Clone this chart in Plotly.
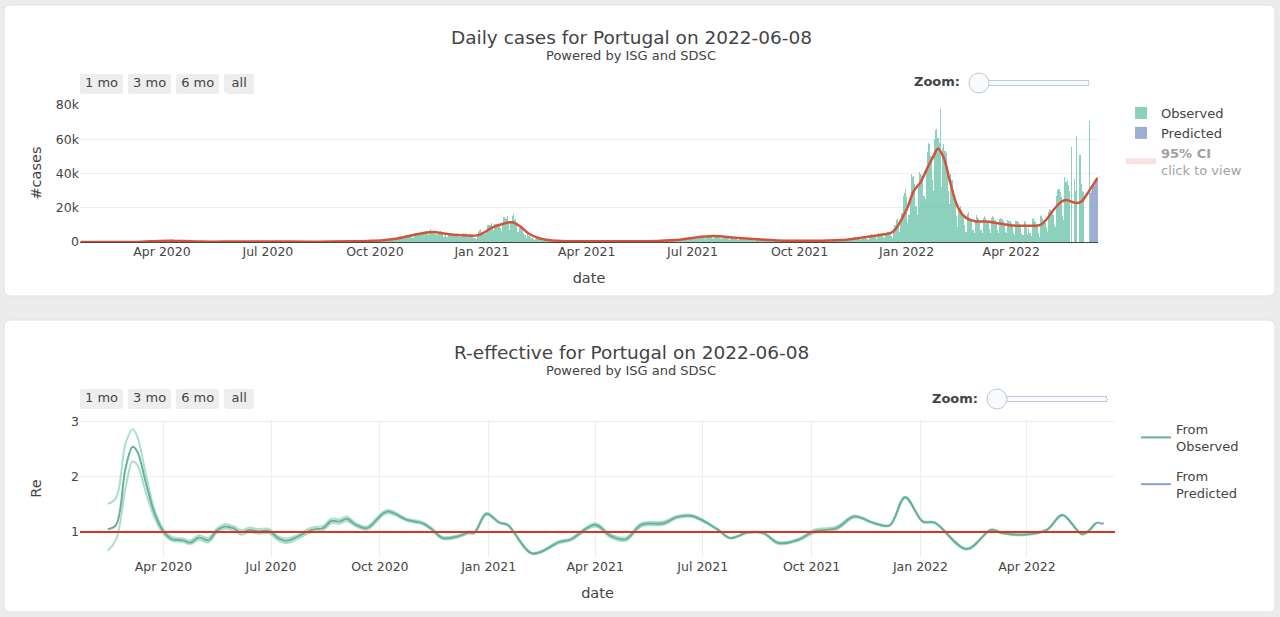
import pandas as pd
import plotly.graph_objects as go

# ---------------- data: daily cases ----------------
cases_start = "2020-01-22"
cases_2020 = (
    [0] * 40 +
    [2,0,2,2,3,4,9,9,11,18,19,57,34,76,86,117,194,143,235,260,320,460,302,633,549,724,902,792,446,1035] +
    [808,783,852,638,754,452,712,699,1516,1058,598,349,514,643,750,181,657,663,521,516,603,371,444,595,163,295,183,171,305,349] +
    [181,173,242,326,178,160,553,138,226,98,234,219,187,264,229,173,290,96,223,252,230,288,271,248,165,219,203,350,304,261,199] +
    [201,366,195,331,377,270,362,292,294,288,421,294,330,346,206,311,382,417,350,323,372,363,345,259,367,451,457,307,265,229] +
    [328,313,374,413,329,229,259,443,375,342,402,339,232,402,375,292,312,252,237,192,312,223,203,274,235,127,135,140,216,204,253] +
    [278,114,106,204,203,278,290,189,145,203,186,325,224,269,264,219,101,159,290,253,224,193,136,106,241,252,270,325,364,248,175] +
    [246,277,390,406,382,342,233,368,646,620,687,673,613,479,316,613,770,780,552,557,460,691,687,827,691,549,570,510,651,691] +
    [833,753,801,676,427,651,963,1278,1394,1646,1163,1031,1239,1644,2072,2101,1949,1564,1417,2236,2535,3270,3669,2829,2240,2449,3960,3970,4224,3045,4007] +
    [3868,2506,2945,4156,5008,5550,5476,5057,4030,5122,4869,6079,5645,6472,5050,4096,5759,7497,6369,6602,4919,6256,4044,4470,5882,6290,5418,5024,2839,3262] +
    [4344,2714,3930,4418,4835,4373,3825,3413,4296,4352,4935,3777,3034,2710,3601,5333,4709,5167,3992,3113,3839,4955,3885,3865,2458,2137,1904,4600,5742,6951,7627]
)
cases_2021 = (
    [6049,4369,4643,4956,6035,9927,10027,10176,10947,9478,7259,10556,10698,8925,10663,10385,8291,6702,10455,14647,13544,13987,15333,11721,6923,12435,15073,16432,12889,13534,11100] +
    [5805,7914,8183,6734,7089,5521,3942,2505,4387,3694,3480,2856,2583,1891,1081,2035,2324,2081,1891,1387,1074,592,1020,1363,1285,1187,855,1011] +
    [485,691,821,875,731,673,390,311,680,581,613,498,435,376,207,534,484,650,538,438,284,212,452,575,650,531,468,405,195,296,436] +
    [575,526,386,268,111,335,479,615,601,542,429,198,485,496,552,608,578,291,351,507,565,672,527,456,297,259,378,650,541,535] +
    [543,296,200,420,491,502,477,404,325,316,470,462,535,495,363,241,373,521,517,423,565,459,386,431,724,688,722,640,628,459,565] +
    [701,800,646,725,650,710,552,1108,1117,1074,1212,1086,905,712,1056,1350,1233,1279,1240,892,788,1497,1604,1556,1415,1455,1075,1600,2362,2449] +
    [2605,2449,2182,1540,1533,2563,3285,3269,3194,3413,2686,1591,3394,4153,3234,3380,3097,2486,1739,2914,3258,3352,3300,3126,2283,1477,2555,3128,2790,2725,2489] +
    [2141,1383,2343,2719,2622,2494,2297,1929,1196,2161,2512,2625,2481,2347,1746,1185,2212,2532,2345,2204,1919,1573,828,1770,2182,1823,1731,1553,1213,706,1342] +
    [1535,1395,1356,1162,910,560,1097,1211,1134,1036,995,674,494,755,865,1006,879,693,546,349,737,752,833,815,699,402,273,624,712,754] +
    [754,659,452,353,640,738,723,677,637,413,279,685,776,846,751,713,527,358,710,928,929,863,814,586,378,857,1143,1264,1073,1013,699] +
    [534,871,1244,1489,1345,1206,1011,574,1328,1723,1965,2091,1793,1190,1065,1963,2527,2699,2533,2247,1603,1107,2904,3773,3150,3665,3294,1789,1426,3120] +
    [3773,4670,4152,3798,2826,1894,4414,5007,4932,4845,4444,3032,2181,5122,5470,5608,5452,5292,3659,2585,7574,10075,12943,13632,10059,5920,12247,17172,26867,28659,30829]
)
cases_2022 = (
    [26000,11000,15500,25000,39500,38000,38700,34000,21000,16000,33000,40900,40000,39000,37500,27000,25000,44000,52500,58000,57000,50000,36000,30000,60000,65500,65700,61000,58000,77500,32000] +
    [55000,57000,53000,52000,42000,30000,22000,40000,36000,30000,27000,22000,15000,9000,19000,21000,18500,17000,15000,10000,6000,16500,17500,14000,13500,12000,7000,5500] +
    [13000,15500,14500,13500,12000,7000,5500,14000,15000,14000,13000,11500,7500,5500,14000,15000,14500,13000,11000,7000,5500,13500,14000,13500,12000,10000,6000,5000,13000,12500,12000] +
    [11000,9500,5000,4000,12000,12500,11500,10500,9000,5000,4000,12000,11500,10000,4500,8000,5000,3500,13500,14000,12500,11500,9500,5000,3000,15000,15500,14000,13000,11000] +
    [8000,6000,17500,19000,18500,17500,16000,10000,8500,27000,30500,31000,29000,26000,15000,13000,38000,35000,36000,33000,30000,0,55500,0,37000,30000,62000,0,0,51000,34000] +
    [30000,29000,0,0,0,0,70700]
)
pred_start = "2022-06-08"
pred_cases = [28500, 30000, 31500, 33000, 34500, 36000, 37500]
ci_upper = [33000, 35500, 38000, 40500, 43000, 45500, 48000]

smooth_dates = ["2020-01-22","2020-03-01","2020-03-15","2020-03-29","2020-04-08","2020-04-20","2020-05-05",
                "2020-06-01","2020-06-25","2020-07-20","2020-08-15","2020-09-10","2020-09-25","2020-10-08",
                "2020-10-20","2020-11-01","2020-11-12","2020-11-20","2020-12-01","2020-12-12","2020-12-29",
                "2021-01-10","2021-01-20","2021-01-27","2021-02-03","2021-02-10","2021-02-18","2021-02-25",
                "2021-03-10","2021-04-01","2021-05-01","2021-06-01","2021-06-20","2021-07-01","2021-07-19",
                "2021-08-10","2021-09-01","2021-09-20","2021-10-15","2021-11-05","2021-11-25","2021-12-10",
                "2021-12-20","2022-01-01","2022-01-07","2022-01-13","2022-01-18","2022-01-24","2022-01-28",
                "2022-02-02","2022-02-07","2022-02-13","2022-02-18","2022-02-24","2022-03-02","2022-03-11",
                "2022-03-22","2022-04-03","2022-04-14","2022-04-26","2022-05-01","2022-05-07","2022-05-14",
                "2022-05-18","2022-05-27","2022-05-31","2022-06-07","2022-06-14"]
smooth_cases = [0,0,150,600,750,550,250,
                250,330,250,200,450,650,1000,
                2000,3800,5300,5800,4800,4100,4000,
                8500,10800,11500,9000,5000,2500,1300,
                600,450,450,650,1300,2400,3500,
                2300,1300,750,750,1100,2700,4200,
                5800,19000,29600,35000,42000,50000,54500,
                49000,36000,22000,16000,13000,12000,12000,
                10800,9600,9500,10000,13000,18500,23500,
                24500,22700,23500,30000,37500]

# ---------------- data: R effective ----------------
r_dates = ["2020-02-14","2020-02-21","2020-02-29","2020-03-06","2020-03-10","2020-03-17","2020-03-24",
           "2020-04-01","2020-04-08","2020-04-17","2020-04-24","2020-05-01","2020-05-09","2020-05-16",
           "2020-05-23","2020-05-30","2020-06-06","2020-06-13","2020-06-20","2020-06-29","2020-07-07",
           "2020-07-14","2020-07-24","2020-08-01","2020-08-07","2020-08-14","2020-08-21","2020-08-28",
           "2020-09-03","2020-09-10","2020-09-20","2020-10-07","2020-10-24","2020-11-06","2020-11-14",
           "2020-11-23","2020-12-06","2020-12-15","2020-12-20","2020-12-30","2021-01-10","2021-01-17",
           "2021-02-07","2021-03-02","2021-03-11","2021-04-01","2021-04-14","2021-04-27","2021-05-10",
           "2021-05-29","2021-06-09","2021-06-22","2021-07-14","2021-07-24","2021-08-08","2021-08-21",
           "2021-09-03","2021-09-20","2021-10-03","2021-10-22","2021-11-06","2021-11-23","2021-12-06",
           "2021-12-19","2022-01-03","2022-01-13","2022-02-09","2022-03-02","2022-03-11","2022-03-29",
           "2022-04-18","2022-05-01","2022-05-18","2022-05-29"]
r_mean = [1.05,1.13,2.16,2.55,2.46,1.91,1.37,
          1.01,0.87,0.85,0.81,0.90,0.85,1.02,
          1.10,1.07,0.99,1.04,1.01,1.02,0.89,
          0.84,0.92,1.01,1.05,1.07,1.20,1.19,
          1.24,1.14,1.07,1.37,1.22,1.16,1.05,
          0.89,0.92,0.99,0.99,1.33,1.17,1.13,
          0.61,0.82,0.86,1.13,0.93,0.87,1.13,
          1.16,1.27,1.29,1.04,0.89,0.99,0.98,
          0.80,0.86,1.01,1.07,1.28,1.16,1.12,
          1.63,1.19,1.17,0.69,1.04,0.98,0.95,
          1.04,1.31,0.96,1.16]
r_lo = [0.66,0.86,1.80,2.28,2.22,1.73,1.28,
        0.97,0.84,0.82,0.78,0.86,0.81,0.98,
        1.06,1.03,0.95,1.00,0.97,0.98,0.85,
        0.80,0.88,0.97,1.01,1.03,1.16,1.15,
        1.20,1.11,1.04,1.34,1.20,1.14,1.03,
        0.87,0.90,0.97,0.97,1.31,1.16,1.12,
        0.60,0.80,0.84,1.10,0.90,0.84,1.10,
        1.13,1.25,1.27,1.03,0.88,0.98,0.97,
        0.78,0.84,0.98,1.04,1.26,1.15,1.11,
        1.62,1.18,1.16,0.68,1.03,0.97,0.94,
        1.03,1.30,0.95,1.15]
r_hi = [1.51,1.62,2.61,2.87,2.73,2.07,1.44,
        1.05,0.91,0.88,0.85,0.94,0.89,1.06,
        1.14,1.11,1.03,1.08,1.05,1.06,0.92,
        0.88,0.95,1.05,1.09,1.11,1.24,1.23,
        1.28,1.17,1.10,1.40,1.24,1.18,1.07,
        0.91,0.94,1.01,1.01,1.35,1.18,1.14,
        0.62,0.84,0.88,1.16,0.96,0.90,1.16,
        1.19,1.29,1.31,1.05,0.90,1.00,0.99,
        0.82,0.88,1.04,1.10,1.30,1.17,1.13,
        1.64,1.20,1.18,0.70,1.05,0.99,0.96,
        1.05,1.32,0.97,1.17]
r_pred_dates = ["2022-05-29", "2022-06-01", "2022-06-03", "2022-06-05"]
r_pred = [1.16, 1.17, 1.15, 1.16]
r_threshold = 1.0

x_range = ["2020-01-21 12:00", "2022-06-14 12:00"]
zoom_steps = [1, 2, 3, 4, 5, 6]

# ---------------- build ----------------
W, H = 1280, 617
def px(x):
    return x / W
def py(y):
    return 1 - y / H

obs_cases = cases_2020 + cases_2021 + cases_2022
obs_dates = pd.date_range(cases_start, periods=len(obs_cases), freq="D")
pred_dates = pd.date_range(pred_start, periods=len(pred_cases), freq="D")

FONT = "DejaVu Sans"
fig = go.Figure()

fig.add_trace(go.Bar(x=obs_dates, y=obs_cases, name="Observed",
                     marker=dict(color="rgba(102,194,165,0.75)", line=dict(width=0)),
                     xaxis="x", yaxis="y", legend="legend"))
fig.add_trace(go.Bar(x=pred_dates, y=pred_cases, name="Predicted",
                     marker=dict(color="rgba(141,160,203,0.85)", line=dict(width=0)),
                     xaxis="x", yaxis="y", legend="legend"))
fig.add_trace(go.Scatter(x=smooth_dates, y=smooth_cases, mode="lines", showlegend=False,
                         line=dict(color="rgb(212,82,60)", width=2.5, shape="spline", smoothing=1),
                         xaxis="x", yaxis="y"))
fig.add_trace(go.Scatter(x=pred_dates, y=ci_upper, mode="lines", visible="legendonly",
                         name="<b>95% CI</b><br>click to view",
                         line=dict(color="rgba(235,120,110,0.45)", width=6),
                         xaxis="x", yaxis="y", legend="legend"))

fig.add_trace(go.Scatter(x=r_dates, y=r_hi, mode="lines", showlegend=False, hoverinfo="skip",
                         line=dict(color="rgba(102,194,165,0.55)", width=2, shape="spline"),
                         xaxis="x2", yaxis="y2"))
fig.add_trace(go.Scatter(x=r_dates, y=r_lo, mode="lines", showlegend=False, hoverinfo="skip",
                         line=dict(color="rgba(102,194,165,0.55)", width=2, shape="spline"),
                         xaxis="x2", yaxis="y2"))
fig.add_trace(go.Scatter(x=r_dates, y=r_mean, mode="lines", name="From<br>Observed",
                         legendgroup="obs",
                         line=dict(color="rgb(104,178,146)", width=2, shape="spline"),
                         xaxis="x2", yaxis="y2", legend="legend2"))
fig.add_trace(go.Scatter(x=r_pred_dates, y=r_pred, mode="lines", name="From<br>Predicted",
                         legendgroup="pred",
                         line=dict(color="rgb(141,160,203)", width=2, shape="spline"),
                         xaxis="x2", yaxis="y2", legend="legend2"))

def card(x0, y0, x1, y1, r=7):
    X0, X1 = px(x0), px(x1)
    Y0, Y1 = py(y1), py(y0)
    rx, ry = r / W, r / H
    path = (f"M {X0+rx},{Y1} L {X1-rx},{Y1} Q {X1},{Y1} {X1},{Y1-ry} L {X1},{Y0+ry} "
            f"Q {X1},{Y0} {X1-rx},{Y0} L {X0+rx},{Y0} Q {X0},{Y0} {X0},{Y0+ry} "
            f"L {X0},{Y1-ry} Q {X0},{Y1} {X0+rx},{Y1} Z")
    return dict(type="path", xref="paper", yref="paper", path=path, layer="below",
                fillcolor="white", line=dict(color="#e3e3e3", width=1))

shapes = [card(4, 5, 1275, 296), card(4, 320, 1275, 612),
          dict(type="line", xref="x2 domain", yref="y2", x0=0, x1=1, y0=r_threshold, y1=r_threshold,
               line=dict(color="rgb(220,50,36)", width=2.2), layer="above")]

def ann(text, x, y, size, bold=False, color="#444"):
    return dict(text=(f"<b>{text}</b>" if bold else text), x=px(x), y=py(y), xref="paper", yref="paper",
                showarrow=False, xanchor="center", yanchor="middle",
                font=dict(family=FONT, size=size, color=color))

annotations = [
    ann("Daily cases for Portugal on 2022-06-08", 631, 37, 18.5),
    ann("Powered by ISG and SDSC", 631, 55, 13),
    ann("R-effective for Portugal on 2022-06-08", 631, 352, 18.5),
    ann("Powered by ISG and SDSC", 631, 370, 13),
    ann("Zoom:", 937, 82, 13, bold=True),
    ann("Zoom:", 955, 398, 13, bold=True),
]

buttons = [dict(count=1, label="1 mo", step="month", stepmode="backward"),
           dict(count=3, label="3 mo", step="month", stepmode="backward"),
           dict(count=6, label="6 mo", step="month", stepmode="backward"),
           dict(label="all", step="all")]

def slider(x0, ytop):
    return dict(active=0, x=px(x0), y=py(ytop), xanchor="left", yanchor="top", len=128 / W,
                pad=dict(t=0, b=0, l=0, r=0), currentvalue=dict(visible=False),
                ticklen=0, minorticklen=0, tickcolor="rgba(0,0,0,0)",
                font=dict(color="rgba(0,0,0,0)", size=2),
                steps=[dict(method="skip", label=" ", value=str(s), args=[None]) for s in zoom_steps])

axis_font = dict(family=FONT, size=12.5, color="#444")
title_font = dict(family=FONT, size=14.5, color="#444")

fig.update_layout(
    template="none",
    width=W, height=H, margin=dict(l=0, r=0, t=0, b=0),
    paper_bgcolor="#ececec", plot_bgcolor="white",
    font=dict(family=FONT, color="#444"),
    bargap=0, barmode="overlay",
    showlegend=True,
    shapes=shapes, annotations=annotations,
    sliders=[slider(969, 73), slider(987, 389)],
    xaxis=dict(domain=[px(80), px(1098)], anchor="y", range=x_range, type="date",
               showgrid=False, zeroline=False, dtick="M3", tick0="2020-01-01", tickformat="%b %Y",
               tickfont=axis_font, title=dict(text="date", font=title_font, standoff=15),
               rangeselector=dict(buttons=buttons, x=px(80), y=py(94), xanchor="left", yanchor="bottom",
                                  font=dict(family=FONT, size=13, color="#444"), bgcolor="#eee")),
    yaxis=dict(domain=[py(242), py(104)], anchor="x", range=[0, 80580], dtick=20000,
               gridcolor="#eee", zeroline=True, zerolinecolor="#444", zerolinewidth=1,
               tickfont=axis_font, title=dict(text="#cases", font=title_font)),
    xaxis2=dict(domain=[px(80), px(1115)], anchor="y2", range=x_range, type="date",
                showgrid=True, gridcolor="#eee", zeroline=False, dtick="M3", tick0="2020-01-01",
                tickformat="%b %Y", tickfont=axis_font,
                title=dict(text="date", font=title_font, standoff=15),
                rangeselector=dict(buttons=buttons, x=px(80), y=py(409), xanchor="left", yanchor="bottom",
                                   font=dict(family=FONT, size=13, color="#444"), bgcolor="#eee")),
    yaxis2=dict(domain=[py(557), py(420)], anchor="x2", range=[0.545, 3.036], dtick=1,
                gridcolor="#eee", zeroline=False, tickfont=axis_font,
                title=dict(text="Re", font=title_font)),
    legend=dict(x=px(1121), y=py(98), xanchor="left", yanchor="top", bgcolor="rgba(0,0,0,0)",
                font=dict(family=FONT, size=13, color="#444")),
    legend2=dict(x=px(1136), y=py(414), xanchor="left", yanchor="top", bgcolor="rgba(0,0,0,0)",
                 font=dict(family=FONT, size=13, color="#444"), tracegroupgap=10),
)

fig.write_html("out.html", config={"displayModeBar": False},
               post_script="document.body.style.margin='0';document.body.style.overflow='hidden';")
